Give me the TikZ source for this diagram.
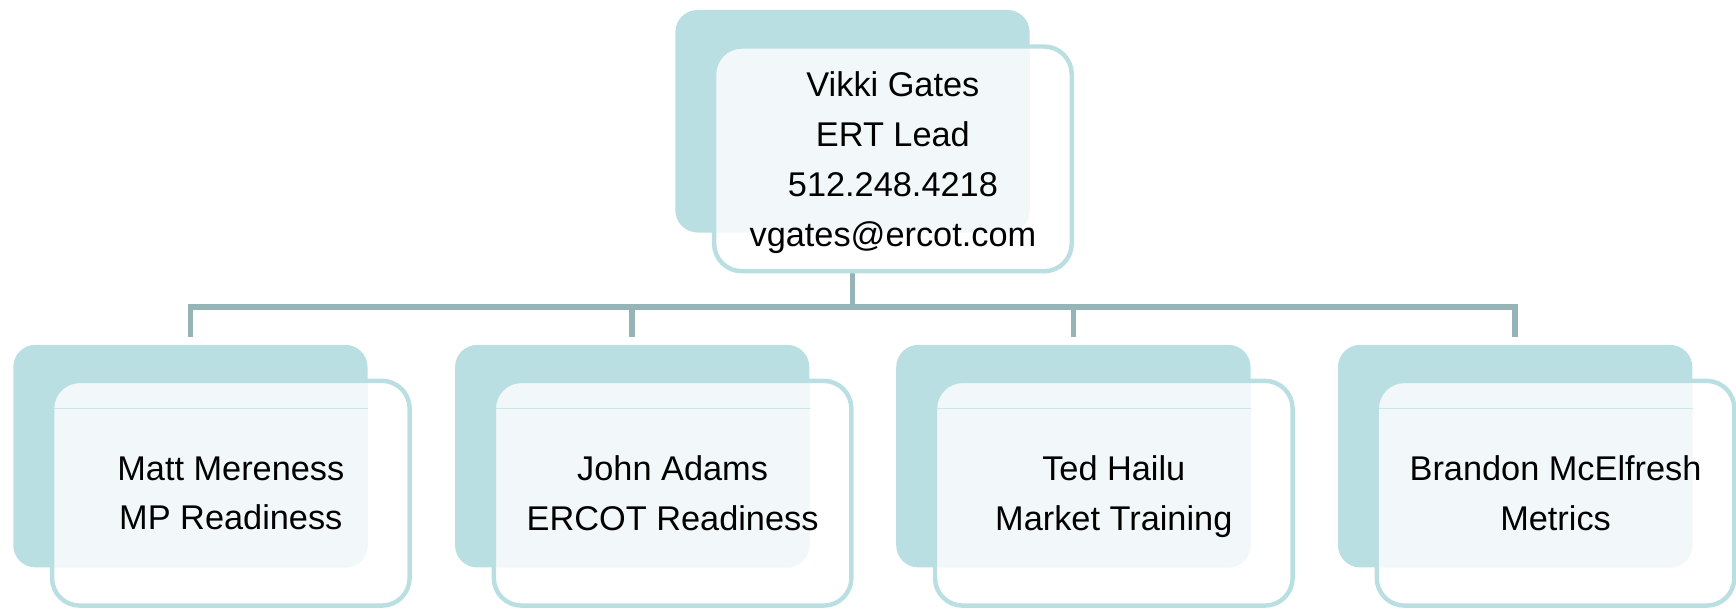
\documentclass[tikz,border=0pt]{standalone}
\usepackage{fontspec}
\setmainfont{Liberation Sans}
\definecolor{boxteal}{HTML}{BADFE2}
\definecolor{conncol}{HTML}{96B3B6}
\definecolor{tintcol}{HTML}{F2F8F9}
\definecolor{faintline}{HTML}{CDE7E9}
\tikzset{
  backbox/.style={rectangle, rounded corners=20pt, minimum width=320pt, minimum height=201pt, fill=boxteal, inner sep=0pt},
  frontbox/.style={rectangle, rounded corners=25pt, minimum width=323pt, minimum height=203pt, draw=boxteal, line width=4pt, fill=white, align=center, inner sep=0pt, text depth=0pt, font=\fontsize{31}{45}\selectfont},
  tinted/.style={path picture={\fill[tintcol, rounded corners=20pt] (#1.south west) rectangle (#1.north east);}},
  tintedline/.style={path picture={\fill[tintcol, rounded corners=20pt] (#1.south west) rectangle (#1.north east);
      \path (path picture bounding box.north west) ++(0,25) coordinate (tmpa);
      \draw[faintline, line width=1.2pt] (tmpa) -- (tmpa -| #1.east);}},
  conn/.style={draw=conncol, line width=5pt},
}
\begin{document}
\begin{tikzpicture}[x=1pt,y=-1pt]
\useasboundingbox (0,0) rectangle (1568,551);
% back boxes
\node[backbox] (topback) at (770,109.5) {};
\node[backbox] (c1back) at (172,412) {};
\node[backbox] (c2back) at (571,412) {};
\node[backbox] (c3back) at (969.5,412) {};
\node[backbox] (c4back) at (1368.5,412) {};
% connectors
\path (topback.south) ++(0,67) coordinate (bus);
\draw[conn] (topback.south) -- (bus);
\draw[conn] ([yshift=7pt]c1back.north) |- (bus) -| ([yshift=7pt]c4back.north);
\draw[conn] ([yshift=7pt]c2back.north) -- (c2back.north |- bus);
\draw[conn] ([yshift=7pt]c3back.north) -- (c3back.north |- bus);
% front boxes
\node[frontbox, tinted=topback] (top) at (806.5,143.5) {Vikki Gates\\ERT Lead\\512.248.4218\\vgates@ercot.com};
\node[frontbox, tintedline=c1back] (c1) at (208.5,445.5) {Matt Mereness\\MP Readiness};
\node[frontbox, tintedline=c2back] (c2) at (607.5,445.5) {John Adams\\ERCOT Readiness};
\node[frontbox, tintedline=c3back] (c3) at (1006,445.5) {Ted Hailu\\Market Training};
\node[frontbox, tintedline=c4back] (c4) at (1405,445.5) {Brandon McElfresh\\Metrics};
\end{tikzpicture}
\end{document}
